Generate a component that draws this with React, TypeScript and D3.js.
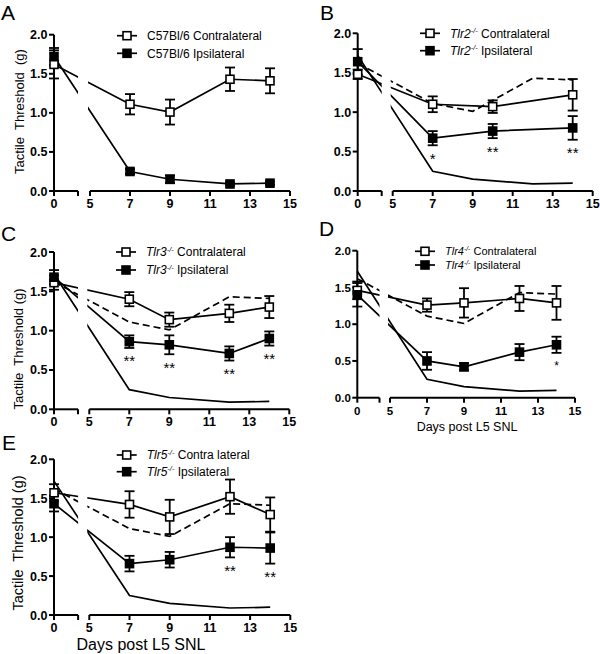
import React from "react";
import * as d3 from "d3";

// ---------- data ----------
const c57Days = [0, 7, 9, 12, 14];
const c57Contra = [1.62, 1.11, 1.01, 1.43, 1.41];
const c57ContraErr = [0.18, 0.13, 0.16, 0.15, 0.16];
const c57Ipsi = [1.72, 0.25, 0.15, 0.09, 0.1];
const c57IpsiErr = [0.11, 0.03, 0.05, 0.02, 0.02];

const tlr2Days = [0, 7, 10, 14];
const tlr2Contra = [1.48, 1.1, 1.07, 1.22];
const tlr2ContraErr = [0.06, 0.1, 0.08, 0.2];
const tlr2Ipsi = [1.64, 0.67, 0.76, 0.8];
const tlr2IpsiErr = [0.16, 0.09, 0.09, 0.15];
const tlr2Stars = ["", "*", "**", "**"];

const tlr3Days = [0, 7, 9, 12, 14];
const tlr3Contra = [1.61, 1.4, 1.14, 1.22, 1.3];
const tlr3ContraErr = [0.09, 0.09, 0.09, 0.11, 0.14];
const tlr3Ipsi = [1.68, 0.86, 0.82, 0.71, 0.9];
const tlr3IpsiErr = [0.09, 0.08, 0.12, 0.09, 0.09];
const tlr3Stars = ["", "**", "**", "**", "**"];

const tlr4Days = [0, 7, 9, 12, 14];
const tlr4Contra = [1.46, 1.26, 1.29, 1.35, 1.29];
const tlr4ContraErr = [0.12, 0.09, 0.2, 0.17, 0.23];
const tlr4Ipsi = [1.4, 0.5, 0.42, 0.62, 0.72];
const tlr4IpsiErr = [0.16, 0.12, 0.05, 0.11, 0.11];
const tlr4Stars = ["", "", "", "", "*"];

const tlr5Days = [0, 7, 9, 12, 14];
const tlr5Contra = [1.57, 1.42, 1.26, 1.52, 1.29];
const tlr5ContraErr = [0.11, 0.17, 0.22, 0.22, 0.22];
const tlr5Ipsi = [1.43, 0.66, 0.71, 0.87, 0.86];
const tlr5IpsiErr = [0.1, 0.1, 0.1, 0.13, 0.2];
const tlr5Stars = ["", "", "", "**", "**"];

const yTicks = [0, 0.5, 1, 1.5, 2];
const yTickLabels = ["0.0", "0.5", "1.0", "1.5", "2.0"];
const xTicks = [5, 7, 9, 11, 13, 15];
const xTitle = "Days post L5 SNL";
const yTitleA = "Tactile\u00a0 Threshold\u00a0 (g)";
const yTitleC = "Tactile\u00a0 Threshold (g)";

const FONT = "'Liberation Sans', Arial, Helvetica, sans-serif";

type Series = { days: number[]; contra: number[]; contraErr: number[]; ipsi: number[]; ipsiErr: number[]; stars?: string[] };

type Layout = {
  id: string;
  letter: string;
  letterPos: [number, number];
  x0: number; x5: number; ppd: number;
  yTop: number; yBot: number;
  legend: [number, number, number];
  legendFont: number;
  tickFont: number;
  gene: string | null;
  contraLabel: string;
  ipsiLabel: string;
  yTitle?: { text: string; x: number; y: number; size: number };
  xTitle?: { x: number; y: number; size: number };
  starFont: number;
  showRef: boolean;
};

function Square({ x, y, filled, s = 8 }: { x: number; y: number; filled: boolean; s?: number }) {
  return (
    <rect x={x - s / 2} y={y - s / 2} width={s} height={s} fill={filled ? "#000" : "#fff"} stroke="#000" strokeWidth={1.6} />
  );
}

function LegendText({ gene, label, x, y, size }: { gene: string | null; label: string; x: number; y: number; size: number }) {
  if (!gene) {
    return (
      <text x={x} y={y} fontSize={size} fontFamily={FONT}>{label}</text>
    );
  }
  return (
    <text x={x} y={y} fontSize={size} fontFamily={FONT}>
      <tspan fontStyle="italic">{gene}</tspan>
      <tspan fontSize={size * 0.62} fontStyle="italic" dy={-size * 0.4}>-/-</tspan>
      <tspan dy={size * 0.4}>{" " + label}</tspan>
    </text>
  );
}

function Panel({ L, S }: { L: Layout; S: Series }) {
  const x15 = L.x5 + 10 * L.ppd;
  const x = d3.scaleLinear().domain([0, 5, 15]).range([L.x0, L.x5, x15]);
  const y = d3.scaleLinear().domain([0, 2]).range([L.yBot, L.yTop]);
  const seg1End = L.x0 + 1.2 * L.ppd;
  const line = d3.line<[number, number]>().x((d) => x(d[0])).y((d) => y(d[1]));
  const pts = (days: number[], vals: number[]) => days.map((d, i) => [d, vals[i]] as [number, number]);
  const clipId = "clip" + L.id;
  const cap = 5;

  const errBars = (vals: number[], errs: number[], days: number[]) =>
    days.map((d, i) => {
      const cx = x(d);
      const t = y(vals[i] + errs[i]);
      const b = y(vals[i] - errs[i]);
      return (
        <g key={i} stroke="#000" strokeWidth={1.8}>
          <line x1={cx} x2={cx} y1={t} y2={b} />
          <line x1={cx - cap} x2={cx + cap} y1={t} y2={t} />
          <line x1={cx - cap} x2={cx + cap} y1={b} y2={b} />
        </g>
      );
    });

  return (
    <g>
      <defs>
        <clipPath id={clipId}>
          <rect x={L.x0 - 20} y={L.yTop - 40} width={seg1End - L.x0 + 20} height={L.yBot - L.yTop + 60} />
          <rect x={L.x5 - 2} y={L.yTop - 40} width={x15 - L.x5 + 20} height={L.yBot - L.yTop + 60} />
        </clipPath>
      </defs>
      {/* panel letter */}
      <text x={L.letterPos[0]} y={L.letterPos[1]} fontSize={21} fontFamily={FONT}>{L.letter}</text>

      {/* axes */}
      <g stroke="#000" strokeWidth={2} fill="none">
        <line x1={L.x0} x2={L.x0} y1={L.yTop} y2={L.yBot + 5} />
        <line x1={L.x0} x2={seg1End} y1={L.yBot} y2={L.yBot} />
        <line x1={seg1End} x2={seg1End} y1={L.yBot} y2={L.yBot + 5} />
        <line x1={L.x5} x2={x15} y1={L.yBot} y2={L.yBot} />
        {xTicks.map((t) => (
          <line key={t} x1={x(t)} x2={x(t)} y1={L.yBot} y2={L.yBot + 5} />
        ))}
        {yTicks.map((t) => (
          <line key={t} x1={L.x0 - 5} x2={L.x0} y1={y(t)} y2={y(t)} />
        ))}
      </g>
      <g fontFamily={FONT} fontWeight="bold" fontSize={L.tickFont}>
        {yTicks.map((t, i) => (
          <text key={t} x={L.x0 - 6.5} y={y(t)} dy="0.36em" textAnchor="end">{yTickLabels[i]}</text>
        ))}
        <text x={x(0)} y={L.yBot + 17} textAnchor="middle">0</text>
        {xTicks.map((t) => (
          <text key={t} x={x(t)} y={L.yBot + 17} textAnchor="middle">{t}</text>
        ))}
      </g>
      {L.yTitle && (
        <text transform={`translate(${L.yTitle.x},${L.yTitle.y}) rotate(-90)`} textAnchor="middle" fontSize={L.yTitle.size} fontFamily={FONT}>
          {L.yTitle.text}
        </text>
      )}
      {L.xTitle && (
        <text x={L.xTitle.x} y={L.xTitle.y} textAnchor="middle" fontSize={L.xTitle.size} fontFamily={FONT}>{xTitle}</text>
      )}

      {/* lines */}
      <g clipPath={`url(#${clipId})`} fill="none" stroke="#000" strokeWidth={1.7}>
        {L.showRef && (
          <>
            <path d={line(pts(c57Days, c57Contra)) || ""} strokeDasharray="7,4" />
            <path d={line(pts(c57Days, c57Ipsi)) || ""} />
          </>
        )}
        <path d={line(pts(S.days, S.contra)) || ""} />
        <path d={line(pts(S.days, S.ipsi)) || ""} />
      </g>

      {errBars(S.contra, S.contraErr, S.days)}
      {errBars(S.ipsi, S.ipsiErr, S.days)}
      {S.days.map((d, i) => (
        <Square key={"c" + i} x={x(d)} y={y(S.contra[i])} filled={false} />
      ))}
      {S.days.map((d, i) => (
        <Square key={"i" + i} x={x(d)} y={y(S.ipsi[i])} filled={true} />
      ))}
      {S.stars &&
        S.days.map((d, i) =>
          S.stars![i] ? (
            <text key={"s" + i} x={x(d)} y={y(S.ipsi[i] - S.ipsiErr[i]) + 10 + L.starFont * 0.56} textAnchor="middle" fontSize={L.starFont} fontFamily={FONT}>
              {S.stars![i]}
            </text>
          ) : null
        )}

      {/* legend */}
      {[0, 1].map((k) => {
        const lx = L.legend[0];
        const ly = L.legend[1] + k * L.legend[2];
        return (
          <g key={k}>
            <line x1={lx - 10} x2={lx + 10} y1={ly} y2={ly} stroke="#000" strokeWidth={1.7} />
            <Square x={lx} y={ly} filled={k === 1} />
            <LegendText gene={L.gene} label={k === 0 ? L.contraLabel : L.ipsiLabel} x={lx + 20} y={ly + L.legendFont * 0.36} size={L.legendFont} />
          </g>
        );
      })}
    </g>
  );
}

const layouts: Layout[] = [
  {
    id: "A", letter: "A", letterPos: [1, 20], x0: 54, x5: 90, ppd: 20, yTop: 34.7, yBot: 191,
    legend: [127, 35.7, 17.6], legendFont: 12, tickFont: 12.5, gene: null,
    contraLabel: "C57Bl/6 Contralateral", ipsiLabel: "C57Bl/6 Ipsilateral",
    yTitle: { text: yTitleA, x: 24.3, y: 111.5, size: 13 }, starFont: 15, showRef: false,
  },
  {
    id: "B", letter: "B", letterPos: [320, 20], x0: 357.7, x5: 392.7, ppd: 20, yTop: 33.3, yBot: 191,
    legend: [430, 33.3, 17.4], legendFont: 12, tickFont: 12.5, gene: "Tlr2",
    contraLabel: "Contralateral", ipsiLabel: "Ipsilateral", starFont: 15, showRef: true,
  },
  {
    id: "C", letter: "C", letterPos: [1, 241], x0: 54, x5: 89.3, ppd: 20, yTop: 252, yBot: 409.3,
    legend: [126, 252, 18], legendFont: 12, tickFont: 12.5, gene: "Tlr3",
    contraLabel: "Contralateral", ipsiLabel: "Ipsilateral",
    yTitle: { text: yTitleC, x: 22.5, y: 349, size: 13 }, starFont: 15, showRef: true,
  },
  {
    id: "D", letter: "D", letterPos: [319, 236], x0: 357.3, x5: 390, ppd: 18.5, yTop: 250.7, yBot: 397.7,
    legend: [425, 251.3, 13.7], legendFont: 11, tickFont: 11.5, gene: "Tlr4",
    contraLabel: "Contralateral", ipsiLabel: "Ipsilateral",
    xTitle: { x: 467, y: 431, size: 12.5 }, starFont: 12, showRef: true,
  },
  {
    id: "E", letter: "E", letterPos: [2, 450], x0: 54, x5: 89.3, ppd: 20.1, yTop: 459.3, yBot: 615,
    legend: [126.7, 455, 16.7], legendFont: 12, tickFont: 12.5, gene: "Tlr5",
    contraLabel: "Contra lateral", ipsiLabel: "Ipsilateral",
    yTitle: { text: yTitleC, x: 22.7, y: 543, size: 14.5 },
    xTitle: { x: 141, y: 650, size: 16 }, starFont: 15, showRef: true,
  },
];

const seriesList: Series[] = [
  { days: c57Days, contra: c57Contra, contraErr: c57ContraErr, ipsi: c57Ipsi, ipsiErr: c57IpsiErr },
  { days: tlr2Days, contra: tlr2Contra, contraErr: tlr2ContraErr, ipsi: tlr2Ipsi, ipsiErr: tlr2IpsiErr, stars: tlr2Stars },
  { days: tlr3Days, contra: tlr3Contra, contraErr: tlr3ContraErr, ipsi: tlr3Ipsi, ipsiErr: tlr3IpsiErr, stars: tlr3Stars },
  { days: tlr4Days, contra: tlr4Contra, contraErr: tlr4ContraErr, ipsi: tlr4Ipsi, ipsiErr: tlr4IpsiErr, stars: tlr4Stars },
  { days: tlr5Days, contra: tlr5Contra, contraErr: tlr5ContraErr, ipsi: tlr5Ipsi, ipsiErr: tlr5IpsiErr, stars: tlr5Stars },
];

export default function App() {
  return (
    <svg width={600} height={654} style={{ position: "absolute", left: 0, top: 0, background: "#fff" }}>
      <rect width={600} height={654} fill="#fff" />
      {layouts.map((L, i) => (
        <Panel key={L.id} L={L} S={seriesList[i]} />
      ))}
    </svg>
  );
}
